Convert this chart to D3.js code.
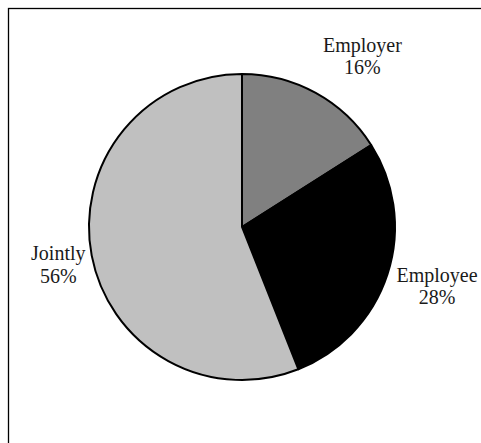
<!DOCTYPE html>
<html>
<head>
<meta charset="utf-8">
<script src="https://cdn.jsdelivr.net/npm/d3@7"></script>
<style>
html, body { margin: 0; padding: 0; background: #fff; }
svg { display: block; }
</style>
</head>
<body>
<svg id="chart" width="481" height="443"></svg>
<script>
const categories = ["Employer", "Employee", "Jointly"];
const values = [16, 28, 56];
const percentLabels = ["16%", "28%", "56%"];
const colors = ["#808080", "#000000", "#c0c0c0"];

const svg = d3.select("#chart");

// Chart frame (extends beyond the visible area on right and bottom)
svg.append("rect")
  .attr("x", 8.5).attr("y", 8.5)
  .attr("width", 480).attr("height", 450)
  .attr("fill", "none").attr("stroke", "#000").attr("stroke-width", 1.3);

const cx = 242, cy = 227, r = 153;
const g = svg.append("g").attr("transform", `translate(${cx},${cy})`);

const data = categories.map((c, i) => ({ name: c, value: values[i], label: percentLabels[i], color: colors[i] }));

const pie = d3.pie().value(d => d.value).sort(null);
const arc = d3.arc().innerRadius(0).outerRadius(r);
const arcs = pie(data);

g.selectAll("path.slice")
  .data(arcs)
  .join("path")
  .attr("class", "slice")
  .attr("d", arc)
  .attr("fill", d => d.data.color)
  .attr("stroke", "#000")
  .attr("stroke-width", 2)
  .attr("stroke-linejoin", "round");

// Label layout: radius factor and angular shift (degrees) from each slice's mid-angle
const labelRadiusFactor = [1.39, 1.324, 1.22];
const labelAngleShift = [5.7, -2.3, 0.6];
const labelG = svg.append("g")
  .attr("font-family", "'Liberation Serif', 'Times New Roman', serif")
  .attr("font-size", 20)
  .attr("fill", "#1a1a1a")
  .attr("text-anchor", "middle");

arcs.forEach((a, i) => {
  const mid = (a.startAngle + a.endAngle) / 2 + labelAngleShift[i] * Math.PI / 180;
  const lr = r * labelRadiusFactor[i];
  const x = cx + Math.sin(mid) * lr;
  const y = cy - Math.cos(mid) * lr;
  const t = labelG.append("text").attr("x", x).attr("y", y);
  t.append("tspan").attr("x", x).attr("dy", 0).text(a.data.name);
  t.append("tspan").attr("x", x).attr("dy", 22.5).text(a.data.label);
});
</script>
</body>
</html>
